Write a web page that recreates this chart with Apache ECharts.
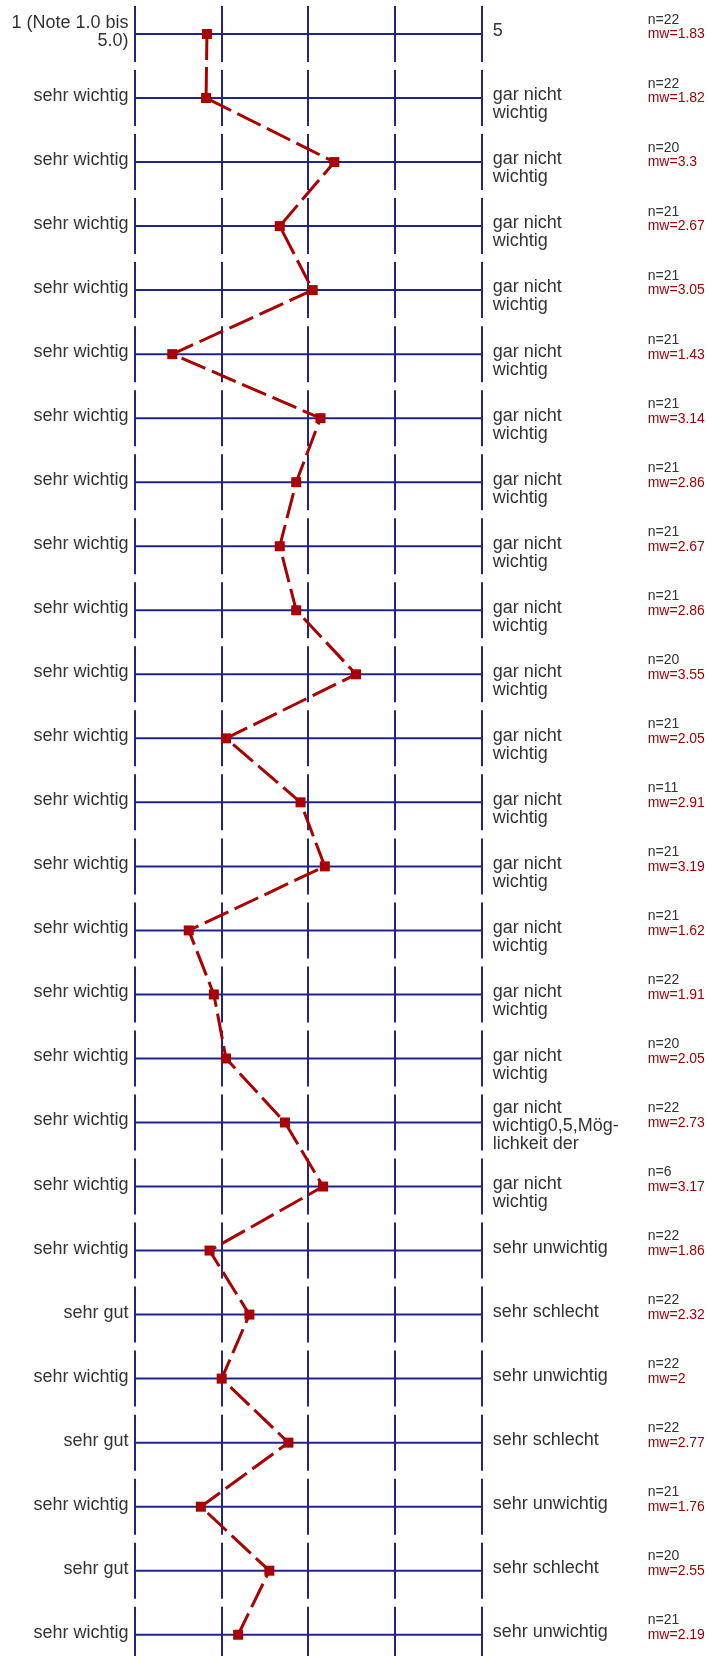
<!DOCTYPE html>
<html>
<head>
<meta charset="utf-8">
<script src="https://cdn.jsdelivr.net/npm/echarts@6/dist/echarts.min.js"></script>
<style>
html,body{margin:0;padding:0;background:#fff;}
#chart{width:708px;height:1656px;}
</style>
</head>
<body>
<div id="chart"></div>
<script>
const leftLabels = [
  "1 (Note 1.0 bis\n5.0)",
  "sehr wichtig","sehr wichtig","sehr wichtig","sehr wichtig","sehr wichtig",
  "sehr wichtig","sehr wichtig","sehr wichtig","sehr wichtig","sehr wichtig",
  "sehr wichtig","sehr wichtig","sehr wichtig","sehr wichtig","sehr wichtig",
  "sehr wichtig","sehr wichtig","sehr wichtig","sehr wichtig",
  "sehr gut","sehr wichtig","sehr gut","sehr wichtig","sehr gut","sehr wichtig"
];
const rightLabels = [
  "5",
  "gar nicht\nwichtig","gar nicht\nwichtig","gar nicht\nwichtig","gar nicht\nwichtig","gar nicht\nwichtig",
  "gar nicht\nwichtig","gar nicht\nwichtig","gar nicht\nwichtig","gar nicht\nwichtig","gar nicht\nwichtig",
  "gar nicht\nwichtig","gar nicht\nwichtig","gar nicht\nwichtig","gar nicht\nwichtig","gar nicht\nwichtig",
  "gar nicht\nwichtig","gar nicht\nwichtig0,5,Mög-\nlichkeit der","gar nicht\nwichtig","sehr unwichtig",
  "sehr schlecht","sehr unwichtig","sehr schlecht","sehr unwichtig","sehr schlecht","sehr unwichtig"
];
const nValues = [22,22,20,21,21,21,21,21,21,21,20,21,11,21,21,22,20,22,6,22,22,22,22,21,20,21];
const meanValues = [1.83,1.82,3.3,2.67,3.05,1.43,3.14,2.86,2.67,2.86,3.55,2.05,2.91,3.19,1.62,1.91,2.05,2.73,3.17,1.86,2.32,2,2.77,1.76,2.55,2.19];
const meanLabels = ["1.83","1.82","3.3","2.67","3.05","1.43","3.14","2.86","2.67","2.86","3.55","2.05","2.91","3.19","1.62","1.91","2.05","2.73","3.17","1.86","2.32","2","2.77","1.76","2.55","2.19"];
const scaleTicks = [1,2,3,4,5];

const NAVY = '#23238c';
const RED = '#aa0000';
const FONT = "'Liberation Sans', Arial, sans-serif";

const chart = echarts.init(document.getElementById('chart'), null, {renderer:'canvas'});

function renderRow(params, api) {
  const i = params.dataIndex;
  const left = api.coord([1, i]);
  const right = api.coord([5, i]);
  const y = left[1];
  const children = [];
  children.push({type:'line', shape:{x1:left[0], y1:y, x2:right[0], y2:y},
    style:{stroke:NAVY, lineWidth:2}});
  scaleTicks.forEach(t => {
    const p = api.coord([t, i]);
    const x = Math.round(p[0]);
    children.push({type:'line', shape:{x1:x, y1:y-28, x2:x, y2:y+28},
      style:{stroke:NAVY, lineWidth:2}});
  });
  children.push({type:'text', x:left[0]-6.5, y:y-2,
    style:{text:leftLabels[i], align:'right', verticalAlign:'middle', fontSize:18, lineHeight:18.5,
      fontFamily:FONT, fill:'#333'}});
  const rLines = rightLabels[i].split('\n').length;
  const rOff = rLines >= 3 ? -23 : -11.6;
  children.push({type:'text', x:right[0]+11, y:y+rOff,
    style:{text:rightLabels[i], align:'left', verticalAlign:'top', fontSize:18, lineHeight:18,
      fontFamily:FONT, fill:'#333'}});
  children.push({type:'text', x:right[0]+166, y:y-21.2,
    style:{text:'n=' + nValues[i], align:'left', verticalAlign:'top', fontSize:14, lineHeight:14,
      fontFamily:FONT, fill:'#333'}});
  children.push({type:'text', x:right[0]+166, y:y-6.5,
    style:{text:'mw=' + meanLabels[i], align:'left', verticalAlign:'top', fontSize:14, lineHeight:14,
      fontFamily:FONT, fill:'#990000'}});
  return {type:'group', children};
}

chart.setOption({
  animation:false,
  grid:{left:135, right:708-481.7, top:0, bottom:0},
  xAxis:{type:'value', min:1, max:5, show:false},
  yAxis:{type:'value', min:-0.531, max:25.332, inverse:true, show:false},
  series:[
    {
      type:'custom',
      renderItem:renderRow,
      data:meanValues.map((v,i)=>[v,i]),
      encode:{x:0, y:1},
      clip:false,
      z:1
    },
    {
      type:'line',
      data:meanValues.map((v,i)=>[v,i]),
      symbol:'rect',
      symbolSize:10,
      itemStyle:{color:RED},
      lineStyle:{color:RED, width:3, type:[26,7]},
      z:5
    }
  ]
});
</script>
</body>
</html>
